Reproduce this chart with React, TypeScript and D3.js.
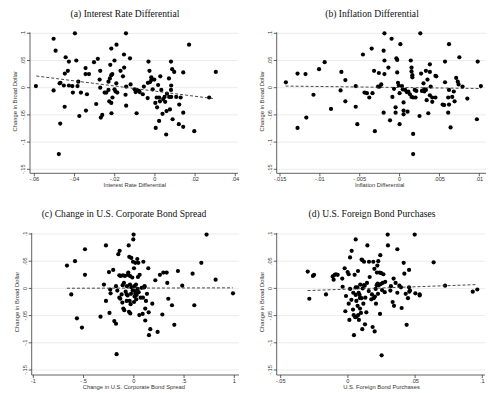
import React from 'react';
import * as d3 from 'd3';

// shared y axis
const yTicks = [0.1, 0.05, 0, -0.05, -0.1, -0.15];
const yTickLabels = ['.1', '.05', '0', '-.05', '-.1', '-.15'];
const yLabel = 'Change in Broad Dollar';

const titles = [
  '(a) Interest Rate Differential',
  '(b) Inflation Differential',
  '(c) Change in U.S. Corporate Bond Spread',
  '(d) U.S. Foreign Bond Purchases',
];
const xLabels = [
  'Interest Rate Differential',
  'Inflation Differential',
  'Change in U.S. Corporate Bond Spread',
  'U.S. Foreign Bond Purchases',
];

const xTicksA = [-0.06, -0.04, -0.02, 0, 0.02, 0.04];
const xTickLabelsA = ['-.06', '-.04', '-.02', '0', '.02', '.04'];
const xTicksB = [-0.015, -0.01, -0.005, 0, 0.005, 0.01];
const xTickLabelsB = ['-.015', '-.01', '-.005', '0', '.005', '.01'];
const xTicksC = [-1, -0.5, 0, 0.5, 1];
const xTickLabelsC = ['-1', '-.5', '0', '.5', '1'];
const xTicksD = [-0.05, 0, 0.05, 0.1];
const xTickLabelsD = ['-.05', '0', '.05', '.1'];

// (a) interest rate differential vs change in dollar
const interestDiff: [number, number][] = [
  [-0.0592, 0.003], [-0.0504, 0.09], [-0.0494, 0.068], [-0.0504, -0.005], [-0.0398, 0.1],
  [-0.0144, 0.1], [0.017, 0.079], [0.0303, 0.029], [-0.0444, 0.056], [-0.0428, 0.048],
  [-0.0391, 0.05], [-0.0448, 0.026], [-0.0433, 0.031], [-0.0474, 0.008], [-0.0453, 0.004],
  [-0.0428, 0.004], [-0.0411, 0.003], [-0.0408, -0.009], [-0.0381, 0.011], [-0.0385, 0.003],
  [-0.0368, -0.009], [-0.0449, -0.035], [-0.0471, -0.066], [-0.0478, -0.122], [-0.0376, -0.052],
  [-0.0345, 0.036], [-0.0345, 0.025], [-0.0328, 0.025], [-0.0338, -0.012], [-0.0343, -0.042],
  [-0.0303, 0.047], [-0.0284, 0.053], [-0.0272, 0.031], [-0.0275, 0.015], [-0.0272, 0.0],
  [-0.0292, -0.03], [-0.0269, -0.055], [-0.0262, -0.05], [-0.025, -0.009], [-0.0242, -0.009],
  [-0.0231, -0.004], [-0.0231, 0.011], [-0.0222, 0.042], [-0.0217, 0.072], [-0.0217, 0.023],
  [-0.0212, 0.025], [-0.0224, 0.017], [-0.0227, -0.025], [-0.0217, -0.028], [-0.0216, -0.047],
  [-0.0211, -0.018], [-0.0201, 0.05], [-0.0191, 0.079], [-0.0201, -0.003], [-0.0196, -0.007],
  [-0.0187, -0.009], [-0.0192, 0.008], [-0.0171, 0.031], [-0.0154, 0.061], [-0.0153, 0.037],
  [-0.0159, 0.021], [-0.0143, 0.002], [-0.0146, -0.013], [-0.0143, -0.033], [-0.0124, 0.054],
  [-0.0121, 0.006], [-0.0101, -0.003], [-0.0096, -0.008], [-0.009, -0.004], [-0.008, -0.006],
  [-0.0076, -0.008], [-0.0091, -0.047], [-0.006, -0.012], [-0.0055, 0.002], [-0.0036, -0.019],
  [-0.0035, 0.009], [-0.0032, 0.048], [-0.0027, 0.031], [-0.0025, 0.01], [-0.0018, 0.019],
  [-0.0018, 0.014], [-0.0011, -0.003], [-0.0003, 0.015], [0.0002, -0.028], [0.0004, -0.074],
  [0.0009, -0.018], [0.0011, -0.036], [0.0016, 0.005], [0.0021, -0.018], [0.0021, -0.061],
  [0.0027, 0.021], [0.0025, -0.025], [0.0032, -0.004], [0.0041, -0.021], [0.0038, -0.048],
  [0.0048, -0.017], [0.0051, -0.026], [0.0056, -0.086], [0.0058, -0.043], [0.006, -0.011],
  [0.007, 0.017], [0.0071, -0.017], [0.0075, -0.04], [0.008, 0.048], [0.0081, 0.004],
  [0.008, -0.004], [0.0081, -0.017], [0.0086, 0.034], [0.0088, -0.058], [0.0096, 0.029],
  [0.0106, -0.017], [0.0119, -0.067], [0.0121, -0.031], [0.0128, -0.018], [0.0141, 0.028],
  [0.0141, -0.046], [0.0141, -0.072], [0.0196, -0.08], [0.027, -0.018], [-0.047, 0.009],
];
const fitA: [number, number][] = [[-0.059, 0.0215], [0.029, -0.02]];

// (b) inflation differential
const inflationDiff: [number, number][] = [
  [-0.01426, 0.0098], [-0.0128, 0.026], [-0.0118, 0.025], [-0.0101, 0.034], [-0.0094, 0.047],
  [-0.0108, -0.013], [-0.0117, -0.055], [-0.0128, -0.074], [-0.0086, -0.039], [-0.0073, 0.029],
  [-0.0074, -0.005], [-0.0068, 0.014], [-0.0068, -0.025], [-0.0055, 0.003], [-0.0055, -0.035],
  [-0.0053, -0.067], [-0.0046, 0.061], [-0.0044, -0.009], [-0.0041, -0.01], [-0.0038, -0.018],
  [-0.0035, 0.072], [-0.0034, -0.01], [-0.0032, 0.031], [-0.0031, -0.08], [-0.0027, 0.002],
  [-0.0026, 0.027], [-0.0025, 0.002], [-0.0023, 0.006], [-0.002, 0.068], [-0.0019, 0.1],
  [-0.0019, 0.05], [-0.0019, 0.025], [-0.002, -0.046], [-0.0014, 0.037], [-0.0012, -0.06],
  [-0.001, 0.09], [-0.0009, -0.017], [-0.0007, -0.002], [-0.0005, -0.036], [-0.0004, 0.054],
  [-0.0003, 0.051], [-0.0005, -0.046], [-0.0003, 0.028], [-0.0002, 0.009], [-0.0001, 0.004],
  [0.0, -0.01], [0.0001, 0.08], [0.0, -0.067], [0.0003, 0.003], [0.0004, -0.003],
  [0.0005, -0.042], [0.0005, -0.049], [0.0005, -0.027], [0.0007, -0.004], [0.0009, -0.008],
  [0.001, -0.044], [0.0011, -0.007], [0.0013, -0.012], [0.0014, 0.05], [0.0015, -0.017],
  [0.0015, 0.037], [0.0015, 0.03], [0.0016, 0.023], [0.0016, 0.019], [0.0017, -0.085],
  [0.0017, -0.122], [0.0017, -0.018], [0.0019, -0.004], [0.002, -0.018], [0.0021, -0.006],
  [0.0025, -0.052], [0.0026, 0.1], [0.0027, 0.026], [0.0028, -0.006], [0.003, 0.008],
  [0.0031, -0.003], [0.0031, -0.007], [0.0033, -0.004], [0.0033, 0.031], [0.0034, -0.023],
  [0.0035, 0.015], [0.0036, -0.047], [0.0038, 0.043], [0.0038, 0.029], [0.0038, -0.014],
  [0.0039, 0.002], [0.0041, -0.026], [0.0041, -0.018], [0.0045, 0.022], [0.0045, -0.018],
  [0.0046, 0.021], [0.0054, -0.031], [0.0056, -0.032], [0.0057, 0.048], [0.0057, 0.01],
  [0.0061, -0.018], [0.0061, -0.046], [0.0062, -0.004], [0.0062, -0.031], [0.0062, 0.08],
  [0.0064, -0.073], [0.0066, -0.017], [0.0068, -0.007], [0.0069, -0.025], [0.0071, 0.018],
  [0.0073, 0.011], [0.0074, 0.006], [0.0075, 0.056], [0.0079, 0.002], [0.0085, -0.02],
  [0.0098, 0.048], [0.0097, -0.058], [0.0102, 0.003],
];
const fitB: [number, number][] = [[-0.0143, 0.003], [0.0102, -0.0015]];

// (c) change in corporate bond spread
const spreadChange: [number, number][] = [
  [-0.665, 0.042], [-0.622, -0.011], [-0.585, 0.05], [-0.566, -0.055], [-0.516, -0.072],
  [-0.486, 0.072], [-0.486, 0.025], [-0.331, -0.052], [-0.297, 0.007], [-0.277, 0.079],
  [-0.277, -0.023], [-0.247, 0.03], [-0.242, -0.045], [-0.235, -0.002], [-0.231, -0.009],
  [-0.205, 0.034], [-0.194, -0.06], [-0.177, -0.065], [-0.171, -0.121], [-0.177, 0.004],
  [-0.164, -0.004], [-0.154, 0.063], [-0.144, 0.024], [-0.144, -0.017], [-0.141, 0.069],
  [-0.134, -0.019], [-0.131, 0.023], [-0.121, -0.011], [-0.114, -0.026], [-0.111, 0.006],
  [-0.108, 0.024], [-0.104, -0.037], [-0.098, 0.01], [-0.095, -0.04], [-0.081, -0.006],
  [-0.071, -0.011], [-0.068, 0.004], [-0.061, -0.013], [-0.058, 0.025], [-0.055, 0.029],
  [-0.051, 0.079], [-0.048, -0.043], [-0.045, 0.058], [-0.041, -0.023], [-0.038, 0.007],
  [-0.038, 0.023], [-0.035, -0.046], [-0.032, -0.029], [-0.028, -0.01], [-0.025, 0.056],
  [-0.022, 0.002], [-0.015, 0.02], [-0.012, -0.004], [-0.008, 0.049], [-0.005, 0.09],
  [-0.002, 0.099], [0.002, 0.037], [0.002, -0.025], [0.005, 0.004], [0.008, -0.015],
  [0.012, -0.005], [0.015, 0.047], [0.015, -0.01], [0.022, 0.007], [0.025, -0.02],
  [0.028, -0.012], [0.035, 0.054], [0.038, -0.001], [0.041, 0.021], [0.045, 0.047],
  [0.048, -0.007], [0.055, -0.049], [0.058, 0.025], [0.068, -0.017], [0.078, 0.001],
  [0.088, -0.047], [0.091, -0.017], [0.095, 0.049], [0.098, 0.002], [0.104, 0.002],
  [0.108, 0.004], [0.114, -0.059], [0.114, -0.037], [0.121, -0.023], [0.131, -0.01],
  [0.144, 0.037], [0.148, -0.044], [0.151, -0.086], [0.164, -0.075], [0.184, -0.028],
  [0.214, 0.015], [0.237, -0.08], [0.26, 0.025], [0.284, -0.048], [0.294, 0.029],
  [0.327, 0.029], [0.333, 0.01], [0.343, -0.019], [0.38, -0.031], [0.403, -0.067],
  [0.439, 0.032], [0.482, 0.005], [0.585, 0.027], [0.602, -0.031], [0.672, 0.047],
  [0.724, 0.099], [0.814, 0.016], [0.987, -0.009], [-0.088, 0.023], [-0.071, -0.023],
];
const fitC: [number, number][] = [[-0.665, 0.0003], [0.985, 0.001]];

// (d) U.S. foreign bond purchases
const bondPurchases: [number, number][] = [
  [-0.0299, 0.031], [-0.0287, -0.019], [-0.026, 0.023], [-0.0252, 0.025], [-0.0163, -0.011],
  [-0.0113, 0.022], [-0.0106, 0.016], [-0.0098, 0.025], [-0.0089, 0.026], [-0.0076, 0.025],
  [-0.0042, 0.018], [-0.0039, 0.003], [-0.0024, 0.037], [-0.0019, -0.042], [-0.0014, -0.014],
  [-0.0002, 0.03], [0.0006, 0.026], [0.0006, -0.028], [0.0011, -0.058], [0.0016, 0.057],
  [0.0016, -0.001], [0.0028, 0.069], [0.0026, -0.021], [0.0038, -0.039], [0.004, -0.008],
  [0.0043, -0.049], [0.0045, -0.086], [0.005, 0.025], [0.0055, -0.053], [0.0058, 0.09],
  [0.0058, 0.002], [0.0058, -0.012], [0.0063, -0.023], [0.0065, -0.052], [0.007, 0.002],
  [0.0072, -0.032], [0.0075, 0.032], [0.0077, -0.049], [0.008, -0.008], [0.0082, -0.058],
  [0.0087, -0.012], [0.009, -0.018], [0.009, -0.037], [0.0092, 0.007], [0.0097, -0.045],
  [0.0102, 0.053], [0.0102, -0.018], [0.0107, -0.075], [0.0107, 0.052], [0.011, 0.0],
  [0.0115, -0.028], [0.012, 0.049], [0.012, 0.006], [0.0125, 0.005], [0.0127, -0.066],
  [0.013, -0.017], [0.0137, -0.044], [0.0142, 0.01], [0.0145, 0.079], [0.0157, 0.049],
  [0.0155, -0.005], [0.0162, 0.021], [0.0174, -0.02], [0.0179, -0.011], [0.0184, -0.071],
  [0.0189, 0.049], [0.0192, -0.018], [0.0197, 0.036], [0.0199, -0.079], [0.0201, -0.015],
  [0.0207, -0.001], [0.0209, -0.028], [0.0214, 0.006], [0.0216, 0.029], [0.0219, 0.042],
  [0.0221, 0.009], [0.0224, -0.01], [0.0226, 0.05], [0.0229, 0.006], [0.0236, 0.029],
  [0.0239, -0.047], [0.0241, 0.061], [0.0244, 0.008], [0.0248, 0.028], [0.0251, -0.123],
  [0.0254, -0.003], [0.0259, 0.01], [0.0264, 0.026], [0.0274, -0.007], [0.0278, 0.012],
  [0.0296, 0.099], [0.0298, 0.079], [0.0316, -0.004], [0.032, 0.004], [0.0333, -0.025],
  [0.034, 0.018], [0.0343, -0.032], [0.0355, 0.01], [0.0368, 0.072], [0.0368, -0.008],
  [0.0383, 0.005], [0.0395, 0.002], [0.04, -0.036], [0.0415, 0.047], [0.042, 0.027],
  [0.043, -0.01], [0.0437, -0.067], [0.0447, -0.018], [0.0455, 0.034], [0.0455, 0.002],
  [0.0457, -0.006], [0.0462, -0.004], [0.0497, 0.099], [0.0502, -0.009], [0.0534, -0.011],
  [0.0534, -0.013], [0.0638, 0.048], [0.0723, 0.005], [0.0929, -0.006], [0.0963, -0.002],
];
const fitD: [number, number][] = [[-0.03, -0.004], [0.096, 0.007]];

const panels = [
  { title: titles[0], xLabel: xLabels[0], ticks: xTicksA, tickLabels: xTickLabelsA, points: interestDiff, fit: fitA,
    axisX: 30, x0: 34.3, x1: 235.3, right: 238, y0: 33.3, y1: 169.3, axisY: 173.3, titleX: 125, titleY: 16.8 },
  { title: titles[1], xLabel: xLabels[1], ticks: xTicksB, tickLabels: xTickLabelsB, points: inflationDiff, fit: fitB,
    axisX: 276.7, x0: 280, x1: 479.3, right: 486, y0: 33.3, y1: 169.3, axisY: 173.3, titleX: 372, titleY: 16.8 },
  { title: titles[2], xLabel: xLabels[2], ticks: xTicksC, tickLabels: xTickLabelsC, points: spreadChange, fit: fitC,
    axisX: 31.7, x0: 33.3, x1: 234.3, right: 239, y0: 234, y1: 370, axisY: 375, titleX: 124, titleY: 216.8 },
  { title: titles[3], xLabel: xLabels[3], ticks: xTicksD, tickLabels: xTickLabelsD, points: bondPurchases, fit: fitD,
    axisX: 276.7, x0: 280.7, x1: 482.3, right: 485, y0: 234, y1: 370, axisY: 375, titleX: 372, titleY: 216.8 },
];

const axisColor = '#3a3a3a';
const sans = 'Liberation Sans, Arial, sans-serif';

const Panel = ({ p }: { p: typeof panels[number] }) => {
  const x = d3.scaleLinear([p.ticks[0], p.ticks[p.ticks.length - 1]], [p.x0, p.x1]);
  const y = d3.scaleLinear([0.1, -0.15], [p.y0, p.y1]);
  const line = d3.line<[number, number]>().x(d => x(d[0])).y(d => y(d[1]));
  const midY = (p.y0 + p.y1) / 2;

  return (
    <g>
      <text x={p.titleX} y={p.titleY} textAnchor="middle" fontFamily="Liberation Serif, Times New Roman, serif"
        fontSize={9.6} fill="#111">{p.title}</text>

      {/* gridlines */}
      {yTicks.map(t => (
        <line key={'g' + t} x1={p.axisX} x2={p.right} y1={y(t)} y2={y(t)} stroke="#e6e6e6" strokeWidth={0.8} />
      ))}

      {/* axes */}
      <line x1={p.axisX} x2={p.axisX} y1={y(0.1) - 1} y2={p.axisY} stroke={axisColor} strokeWidth={0.8} />
      <line x1={p.axisX} x2={p.right} y1={p.axisY} y2={p.axisY} stroke={axisColor} strokeWidth={0.8} />

      {yTicks.map((t, i) => (
        <g key={'y' + t}>
          <line x1={p.axisX - 3} x2={p.axisX} y1={y(t)} y2={y(t)} stroke={axisColor} strokeWidth={0.8} />
          <text transform={`translate(${p.axisX - 7},${y(t)}) rotate(-90)`} textAnchor="middle"
            dominantBaseline="central" fontFamily={sans} fontSize={5.6} fill="#333">{yTickLabels[i]}</text>
        </g>
      ))}
      {p.ticks.map((t, i) => (
        <g key={'x' + t}>
          <line x1={x(t)} x2={x(t)} y1={p.axisY} y2={p.axisY + 3} stroke={axisColor} strokeWidth={0.8} />
          <text x={x(t)} y={p.axisY + 5.8} textAnchor="middle" dominantBaseline="central"
            fontFamily={sans} fontSize={5.6} fill="#333">{p.tickLabels[i]}</text>
        </g>
      ))}

      <text x={(p.x0 + p.x1) / 2} y={p.axisY + 12} textAnchor="middle" dominantBaseline="central"
        fontFamily={sans} fontSize={5.8} fill="#333">{p.xLabel}</text>
      <text transform={`translate(${p.axisX - 15},${midY}) rotate(-90)`} textAnchor="middle"
        dominantBaseline="central" fontFamily={sans} fontSize={5.8} fill="#333">{yLabel}</text>

      {p.points.map((d, i) => (
        <circle key={i} cx={x(d[0])} cy={y(d[1])} r={2.1} fill="#000" />
      ))}

      <path d={line(p.fit) ?? ''} fill="none" stroke="#333" strokeWidth={0.9} strokeDasharray="3,2" />
    </g>
  );
};

export default function App() {
  return (
    <div style={{ position: 'absolute', left: 0, top: 0 }}>
      <svg width={500} height={393} style={{ display: 'block', background: '#fff' }}>
        {panels.map((p, i) => <Panel key={i} p={p} />)}
      </svg>
    </div>
  );
}
